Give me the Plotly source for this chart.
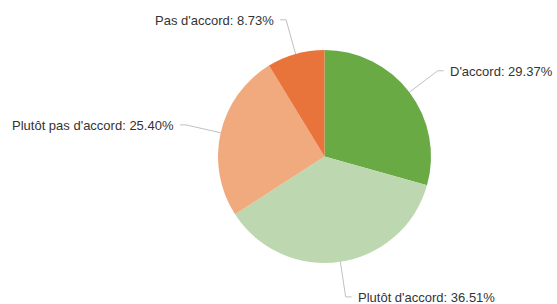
import math
import plotly.graph_objects as go

labels = ["D'accord", "Plutôt d'accord", "Plutôt pas d'accord", "Pas d'accord"]
values = [29.37, 36.51, 25.40, 8.73]
colors = ["#6aaa45", "#bdd7b0", "#f1a97e", "#e8743b"]

W, H = 557, 304
cx, cy, R = 324.5, 156.5, 106.5
bend_r = 142
hseg = 6
gap = 4

fig = go.Figure(go.Pie(
    labels=labels, values=values, sort=False, direction="clockwise", rotation=0,
    marker=dict(colors=colors, line=dict(width=0)),
    textinfo="none", hoverinfo="label+percent", showlegend=False,
    domain=dict(x=[(cx - R) / W, (cx + R) / W], y=[(H - cy - R) / H, (H - cy + R) / H]),
))

def px(x, y):
    return x / W, (H - y) / H

total = sum(values)
cum = 0.0
shapes, annotations = [], []
for lab, v in zip(labels, values):
    mid = (cum + v / 2) / total * 2 * math.pi
    cum += v
    sx, sy = math.sin(mid), -math.cos(mid)
    x0, y0 = cx + R * sx, cy + R * sy
    x1, y1 = cx + bend_r * sx, cy + bend_r * sy
    side = 1 if sx >= 0 else -1
    x2 = x1 + side * hseg
    p0, p1, p2 = px(x0, y0), px(x1, y1), px(x2, y1)
    shapes.append(dict(type="path", xref="paper", yref="paper",
                       path=f"M {p0[0]},{p0[1]} L {p1[0]},{p1[1]} L {p2[0]},{p2[1]}",
                       line=dict(color="#c0c0c0", width=1)))
    tx, ty = px(x2 + side * gap, y1 + 1)
    annotations.append(dict(xref="paper", yref="paper", x=tx, y=ty, showarrow=False,
                            text=f"{lab}: {v:.2f}%",
                            xanchor="left" if side > 0 else "right", yanchor="middle",
                            font=dict(family="Liberation Sans, Arial, sans-serif", size=13, color="#333333")))

fig.update_layout(width=W, height=H, margin=dict(l=0, r=0, t=0, b=0),
                  paper_bgcolor="white", plot_bgcolor="white",
                  shapes=shapes, annotations=annotations)
fig.write_html("out.html", config={"displayModeBar": False},
               post_script="document.body.style.margin='0';")
